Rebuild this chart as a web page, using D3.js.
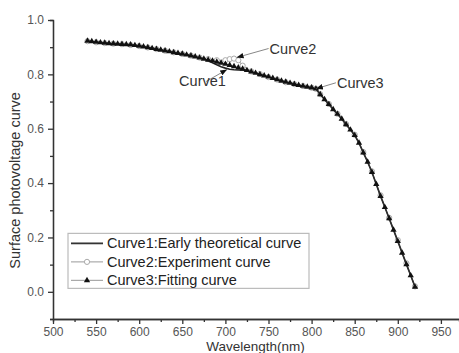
<!DOCTYPE html>
<html>
<head>
<meta charset="utf-8">
<script src="https://cdn.jsdelivr.net/npm/d3@7"></script>
<style>
  body { margin: 0; background: #fff; }
  svg { display: block; font-family: "Liberation Sans", Arial, sans-serif; }
</style>
</head>
<body>
<div id="chart"></div>
<script>
// wavelengths (nm) for the fitted curve (triangles) and the early theoretical curve
var wavelengths = [540, 545, 550, 555, 560, 565, 570, 575, 580, 585, 590, 595, 600, 605, 610, 615, 620, 625, 630, 635,
  640, 645, 650, 655, 660, 665, 670, 675, 680, 685, 690, 695, 700, 705, 710, 715, 720, 725, 730, 735,
  740, 745, 750, 755, 760, 765, 770, 775, 780, 785, 790, 795, 800, 805, 810, 815, 820, 825, 830, 835,
  840, 845, 850, 855, 860, 865, 870, 875, 880, 885, 890, 895, 900, 905, 910, 915, 920];

var curve1 = [0.923, 0.921, 0.919, 0.917, 0.916, 0.914, 0.913, 0.912, 0.911, 0.910, 0.909, 0.907, 0.905, 0.902, 0.899, 0.896, 0.893, 0.890, 0.887, 0.884,
  0.881, 0.878, 0.875, 0.872, 0.869, 0.865, 0.861, 0.857, 0.851, 0.843, 0.835, 0.828, 0.823, 0.819, 0.817, 0.816, 0.816, 0.813, 0.809, 0.805,
  0.800, 0.795, 0.791, 0.786, 0.781, 0.776, 0.772, 0.768, 0.764, 0.760, 0.757, 0.754, 0.751, 0.747, 0.726, 0.708, 0.690, 0.671, 0.654, 0.636,
  0.616, 0.596, 0.576, 0.548, 0.512, 0.478, 0.440, 0.396, 0.352, 0.311, 0.270, 0.228, 0.186, 0.143, 0.101, 0.060, 0.018];

var curve3 = [0.923, 0.921, 0.919, 0.917, 0.916, 0.914, 0.913, 0.912, 0.911, 0.910, 0.909, 0.907, 0.905, 0.902, 0.899, 0.896, 0.893, 0.890, 0.887, 0.884,
  0.881, 0.878, 0.875, 0.872, 0.869, 0.865, 0.861, 0.857, 0.853, 0.850, 0.846, 0.842, 0.838, 0.834, 0.829, 0.825, 0.820, 0.815, 0.810, 0.805,
  0.800, 0.795, 0.791, 0.786, 0.781, 0.776, 0.772, 0.768, 0.764, 0.760, 0.757, 0.754, 0.751, 0.747, 0.726, 0.708, 0.690, 0.671, 0.654, 0.636,
  0.616, 0.596, 0.576, 0.548, 0.512, 0.478, 0.440, 0.396, 0.352, 0.311, 0.270, 0.228, 0.186, 0.143, 0.101, 0.060, 0.018];

// experiment curve (open circles)
var expWavelengths = [540, 550, 560, 570, 580, 590, 600, 610, 620, 630, 640, 650, 660, 670, 680, 690, 700, 705, 710, 715,
  720, 730, 740, 750, 760, 770, 780, 790, 800, 805, 810, 820, 830, 840, 850, 860, 870, 880, 890, 900, 910, 920];
var curve2 = [0.922, 0.918, 0.915, 0.913, 0.911, 0.908, 0.904, 0.899, 0.893, 0.887, 0.881, 0.875, 0.869, 0.862, 0.856, 0.852, 0.852, 0.856, 0.858, 0.852,
  0.832, 0.811, 0.801, 0.790, 0.781, 0.771, 0.764, 0.757, 0.751, 0.747, 0.727, 0.691, 0.655, 0.617, 0.578, 0.514, 0.443, 0.355, 0.272, 0.190, 0.105, 0.020];

var xTicks = [500, 550, 600, 650, 700, 750, 800, 850, 900, 950];
var yTicks = [0.0, 0.2, 0.4, 0.6, 0.8, 1.0];

var legendLabels = ["Curve1:Early theoretical curve", "Curve2:Experiment curve", "Curve3:Fitting curve"];

// annotations: label, wavelength and value the arrow points at
var notes = [
  {label: "Curve1", wl: 702, v: 0.818},
  {label: "Curve2", wl: 713, v: 0.862},
  {label: "Curve3", wl: 805, v: 0.747}
];

// dimensions
var margin = {top: 20, right: 0, bottom: 34, left: 53},
    width = 459 - margin.left - margin.right,
    height = 353 - margin.top - margin.bottom;

var svg = d3.select("#chart")
  .append("svg")
    .attr("width", width + margin.left + margin.right)
    .attr("height", height + margin.top + margin.bottom)
  .append("g")
    .attr("transform", "translate(" + margin.left + "," + margin.top + ")");

var xScale = d3.scaleLinear()
  .domain([500, 971])
  .range([0, width]);

var yScale = d3.scaleLinear()
  .domain([-0.1, 1.0])
  .range([height, 0]);

// minor ticks first so the major axes sit on top
svg.append("g")
  .attr("class", "axis minor")
  .attr("transform", "translate(0," + height + ")")
  .call(d3.axisBottom(xScale).tickValues(d3.range(525, 971, 50)).tickSize(3).tickFormat(""));

svg.append("g")
  .attr("class", "axis minor")
  .call(d3.axisLeft(yScale).tickValues([-0.1, 0.1, 0.3, 0.5, 0.7, 0.9]).tickSize(3).tickFormat(""));

var xAxis = svg.append("g")
  .attr("class", "axis axis--x")
  .attr("transform", "translate(0," + height + ")")
  .call(d3.axisBottom(xScale).tickValues(xTicks).tickSize(5).tickPadding(3).tickSizeOuter(0));

var yAxis = svg.append("g")
  .attr("class", "axis axis--y")
  .call(d3.axisLeft(yScale).tickValues(yTicks).tickSize(5).tickPadding(4).tickSizeOuter(0)
    .tickFormat(d3.format(".1f")));

svg.selectAll(".axis path, .axis line")
  .attr("stroke", "#333")
  .attr("stroke-width", 1.3);
svg.selectAll(".axis text")
  .attr("fill", "#555")
  .style("font-size", "12px")
  .style("font-family", "Liberation Sans, Arial, sans-serif");

// lines
var line = d3.line()
  .x(function(d) { return xScale(d[0]); })
  .y(function(d) { return yScale(d[1]); });

var pts1 = wavelengths.map(function(w, i) { return [w, curve1[i]]; });
var pts2 = expWavelengths.map(function(w, i) { return [w, curve2[i]]; });
var pts3 = wavelengths.map(function(w, i) { return [w, curve3[i]]; });

// Curve2: experiment, gray line with open circles
svg.append("path")
  .datum(pts2)
  .attr("fill", "none")
  .attr("stroke", "#aaa")
  .attr("stroke-width", 1.2)
  .attr("d", line);

svg.selectAll("circle.exp")
  .data(pts2)
  .enter().append("circle")
    .attr("class", "exp")
    .attr("cx", function(d) { return xScale(d[0]); })
    .attr("cy", function(d) { return yScale(d[1]); })
    .attr("r", 2.6)
    .attr("fill", "#fff")
    .attr("stroke", "#aaa")
    .attr("stroke-width", 1);

// Curve1: early theoretical, solid dark line
svg.append("path")
  .datum(pts1)
  .attr("fill", "none")
  .attr("stroke", "#222")
  .attr("stroke-width", 1.6)
  .attr("d", line);

// Curve3: fitting curve, thin line with filled triangles
svg.append("path")
  .datum(pts3)
  .attr("fill", "none")
  .attr("stroke", "#333")
  .attr("stroke-width", 0.8)
  .attr("d", line);

var tri = d3.symbol().type(d3.symbolTriangle).size(17);

svg.selectAll("path.fit")
  .data(pts3)
  .enter().append("path")
    .attr("class", "fit")
    .attr("transform", function(d) { return "translate(" + xScale(d[0]) + "," + yScale(d[1]) + ")"; })
    .attr("d", tri)
    .attr("fill", "#111");

// annotation arrows
svg.append("defs").append("marker")
  .attr("id", "arrow")
  .attr("viewBox", "0 0 10 10")
  .attr("refX", 10)
  .attr("refY", 5)
  .attr("markerWidth", 7)
  .attr("markerHeight", 7)
  .attr("orient", "auto")
  .append("path")
    .attr("d", "M0,1L10,5L0,9z")
    .attr("fill", "#111");

var noteOffsets = {Curve1: [-21, 12, -48, 17], Curve2: [32, -9, 33, -4], Curve3: [20, -6, 21, -1]};

notes.forEach(function(n) {
  var x = xScale(n.wl), y = yScale(n.v), o = noteOffsets[n.label];
  svg.append("line")
    .attr("x1", x + o[0])
    .attr("y1", y + o[1])
    .attr("x2", x)
    .attr("y2", y)
    .attr("stroke", "#888")
    .attr("stroke-width", 1)
    .attr("marker-end", "url(#arrow)");
  svg.append("text")
    .attr("x", x + o[2])
    .attr("y", y + o[3])
    .attr("fill", "#333")
    .style("font-size", "14.5px")
    .text(n.label);
});

// axis titles
svg.append("text")
  .attr("x", xScale(735))
  .attr("y", height + 32)
  .style("text-anchor", "middle")
  .style("font-size", "13.5px")
  .attr("fill", "#333")
  .text("Wavelength(nm)");

svg.append("text")
  .attr("transform", "rotate(-90)")
  .attr("x", -(yScale(0.41)))
  .attr("y", -33)
  .style("text-anchor", "middle")
  .style("font-size", "14.5px")
  .attr("fill", "#333")
  .text("Surface photovoltage curve");

// legend
var legend = svg.append("g")
  .attr("class", "legend")
  .attr("transform", "translate(15," + yScale(0.215) + ")");

legend.append("rect")
  .attr("width", 241)
  .attr("height", 55)
  .attr("fill", "#fff")
  .attr("stroke", "#bbb")
  .attr("stroke-width", 1.2);

var rows = legend.selectAll("g.row")
  .data(legendLabels)
  .enter().append("g")
    .attr("class", "row")
    .attr("transform", function(d, i) { return "translate(0," + (10 + i * 18.5) + ")"; });

rows.append("line")
  .attr("x1", 3)
  .attr("x2", 35)
  .attr("stroke", function(d, i) { return i === 0 ? "#333" : "#aaa"; })
  .attr("stroke-width", function(d, i) { return i === 0 ? 1.8 : 1.2; });

rows.filter(function(d, i) { return i === 1; })
  .append("circle")
    .attr("cx", 19)
    .attr("r", 2.6)
    .attr("fill", "#fff")
    .attr("stroke", "#aaa");

rows.filter(function(d, i) { return i === 2; })
  .append("path")
    .attr("transform", "translate(19,0)")
    .attr("d", tri)
    .attr("fill", "#111");

rows.append("text")
  .attr("x", 39)
  .attr("dy", "0.35em")
  .style("font-size", "14.5px")
  .attr("fill", "#222")
  .text(function(d) { return d; });
</script>
</body>
</html>
